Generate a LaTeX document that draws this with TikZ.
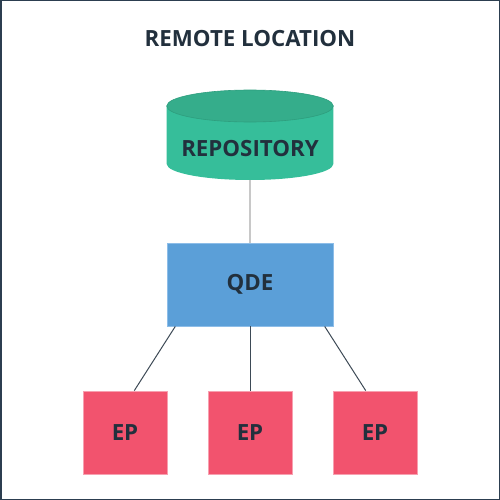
\documentclass[tikz,border=0pt]{standalone}
\usepackage{fontspec}
\setmainfont{Open Sans}
\usetikzlibrary{calc}
\definecolor{frame}{HTML}{2C3E50}
\definecolor{txt}{HTML}{22303D}
\definecolor{cylside}{HTML}{36BE9A}
\definecolor{cyltop}{HTML}{35AD8B}
\definecolor{cylline}{HTML}{2E9E7E}
\definecolor{qdeblue}{HTML}{5B9FD8}
\definecolor{qdeedge}{HTML}{8DBDE8}
\definecolor{epred}{HTML}{F2536E}
\definecolor{epedge}{HTML}{F7A0B0}
\definecolor{grayline}{HTML}{C8C8C8}
\definecolor{darkline}{HTML}{3D4A56}
\tikzset{
  lbl/.style={font=\fontsize{22.3}{27}\selectfont\bfseries, text=txt},
  epbox/.style={lbl, fill=epred, draw=epedge, line width=0.8pt, minimum width=84pt, minimum height=83pt, inner sep=0pt},
  qdebox/.style={lbl, fill=qdeblue, draw=qdeedge, line width=0.8pt, minimum width=166pt, minimum height=83pt, inner sep=0pt},
  link/.style={draw=darkline, line width=1pt},
}
\begin{document}
\begin{tikzpicture}[x=1pt,y=-1pt]
\useasboundingbox (0,0) rectangle (500,500);
\draw[frame, line width=3pt] (0,0) rectangle (500,500);
\node[lbl, anchor=base] (title) at (250,46.5) {REMOTE LOCATION};
% cylinder
\fill[cylside] (166.7,106) -- (166.7,164) arc[start angle=180, end angle=0, x radius=83.3, y radius=16] -- (333.3,106) -- cycle;
\filldraw[fill=cyltop, draw=cylline, line width=0.6pt] (250,106) ellipse[x radius=83.3, y radius=16];
\node[minimum width=166.6pt, minimum height=90pt, inner sep=0pt] (repo) at (250,135) {};
\node[lbl, anchor=base] (repotext) at (250,156) {REPOSITORY};
% QDE
\node[qdebox] (qde) at (250,284.5) {QDE};
% EPs
\node[epbox] (ep1) at (125,432.5) {EP};
\node[epbox] (ep2) at (250,432.5) {EP};
\node[epbox] (ep3) at (375,432.5) {EP};
% connectors
\draw[grayline, line width=1.6pt] (repo.south) -- (qde.north);
\coordinate (q1) at ($(qde.south west)+(8.7,0)$);
\coordinate (q3) at ($(qde.south east)+(-8.7,0)$);
\coordinate (e1) at ($(ep1.north)+(9.3,0)$);
\coordinate (e3) at ($(ep3.north)+(-9.3,0)$);
\draw[link] (q1) -- (e1);
\draw[link] (qde.south) -- (ep2.north);
\draw[link] (q3) -- (e3);
\end{tikzpicture}
\end{document}
